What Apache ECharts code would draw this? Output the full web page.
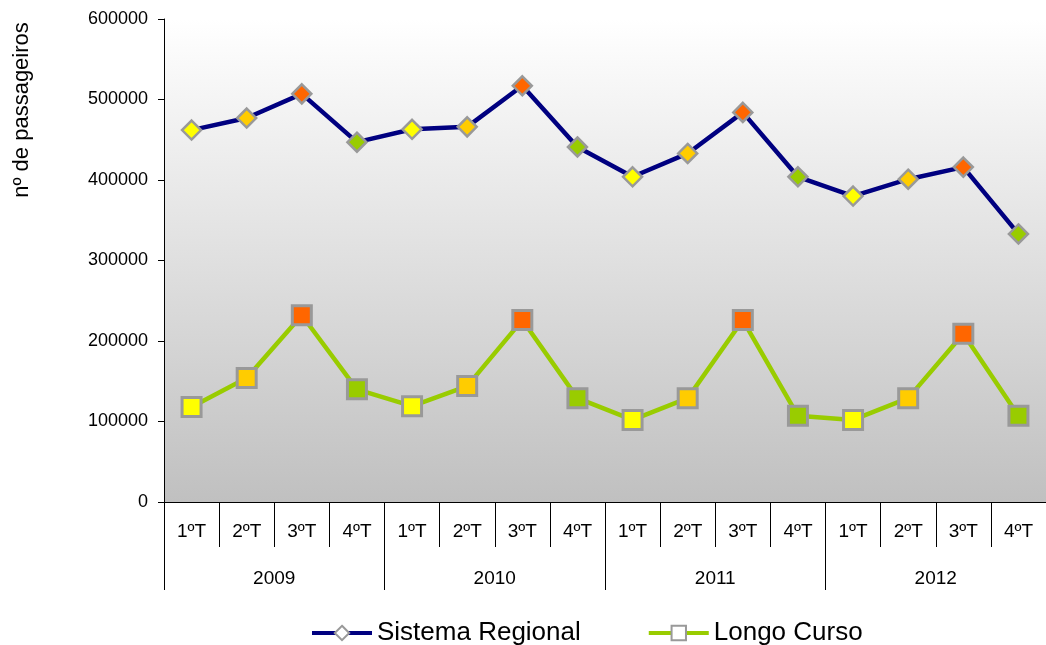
<!DOCTYPE html>
<html>
<head>
<meta charset="utf-8">
<script src="https://cdn.jsdelivr.net/npm/echarts@6/dist/echarts.min.js"></script>
<style>
html,body{margin:0;padding:0;background:#fff;}
#chart{width:1046px;height:645px;}
</style>
</head>
<body>
<div id="chart"></div>
<script>
var quarters = ['1ºT','2ºT','3ºT','4ºT','1ºT','2ºT','3ºT','4ºT','1ºT','2ºT','3ºT','4ºT','1ºT','2ºT','3ºT','4ºT'];
var years = ['2009','2010','2011','2012'];
var regional = [462000,477000,507000,447000,463000,466000,517000,441000,404000,433000,484000,404000,380000,401000,416000,333000];
var longo = [118000,154000,232000,140000,119000,144000,226000,129000,102000,129000,226000,107000,102000,129000,209000,107000];
var quarterColors = ['#ffff00','#ffcc00','#ff6600','#99cc00'];

function colored(values){
    var out = [];
    for(var i=0;i<values.length;i++){
        out.push({value: values[i], itemStyle: {color: quarterColors[i % 4]}});
    }
    return out;
}

var font = 'Liberation Sans, Arial, sans-serif';
var myChart = echarts.init(document.getElementById('chart'));
var option = {
    animation: false,
    textStyle: {fontFamily: font},
    grid: {
        left: 164, right: 0, top: 19, bottom: 143,
        show: true,
        borderWidth: 0,
        backgroundColor: new echarts.graphic.LinearGradient(0, 0, 0, 1, [
            {offset: 0, color: '#ffffff'},
            {offset: 1, color: '#c0c0c0'}
        ])
    },
    legend: {
        left: 305,
        top: 615,
        itemWidth: 60,
        itemHeight: 18,
        itemGap: 66,
        textStyle: {fontSize: 26, color: '#000', fontFamily: font},
        data: [
            {name: 'Sistema Regional', itemStyle: {color: '#fff', borderColor: '#999', borderWidth: 2}, lineStyle: {width: 4}},
            {name: 'Longo Curso', itemStyle: {color: '#fff', borderColor: '#999', borderWidth: 2}, lineStyle: {width: 4}}
        ]
    },
    graphic: [{
        type: 'text',
        x: 22,
        y: 110,
        rotation: Math.PI / 2,
        style: {
            text: 'nº de passageiros',
            fill: '#000',
            font: '22px Liberation Sans, Arial, sans-serif',
            align: 'center',
            verticalAlign: 'middle'
        }
    }],
    xAxis: [{
        type: 'category',
        data: quarters,
        boundaryGap: true,
        axisLine: {lineStyle: {color: '#000', width: 1}},
        axisTick: {show: true, interval: 0, length: 45, lineStyle: {color: '#000'}},
        axisLabel: {interval: 0, margin: 20, fontSize: 19, color: '#000'}
    }, {
        type: 'category',
        data: years,
        position: 'bottom',
        boundaryGap: true,
        axisLine: {show: false},
        axisTick: {show: true, interval: 0, length: 88, lineStyle: {color: '#000'}},
        axisLabel: {interval: 0, margin: 67, fontSize: 19, color: '#000'}
    }],
    yAxis: {
        type: 'value',
        min: 0,
        max: 600000,
        interval: 100000,
        axisLine: {show: true, lineStyle: {color: '#000'}},
        axisTick: {show: true, length: 6, lineStyle: {color: '#000'}},
        splitLine: {show: false},
        axisLabel: {fontSize: 18, color: '#000', margin: 16, formatter: function(v){ return String(v); }}
    },
    series: [{
        name: 'Sistema Regional',
        type: 'line',
        xAxisIndex: 0,
        data: colored(regional),
        symbol: 'diamond',
        symbolSize: 19,
        lineStyle: {color: '#000080', width: 4.5},
        itemStyle: {color: '#000080', borderColor: '#999', borderWidth: 2.5},
        z: 3
    }, {
        name: 'Longo Curso',
        type: 'line',
        xAxisIndex: 0,
        data: colored(longo),
        symbol: 'rect',
        symbolSize: 19,
        lineStyle: {color: '#99cc00', width: 4.5},
        itemStyle: {color: '#99cc00', borderColor: '#999', borderWidth: 3},
        z: 2
    }]
};
myChart.setOption(option);
</script>
</body>
</html>
